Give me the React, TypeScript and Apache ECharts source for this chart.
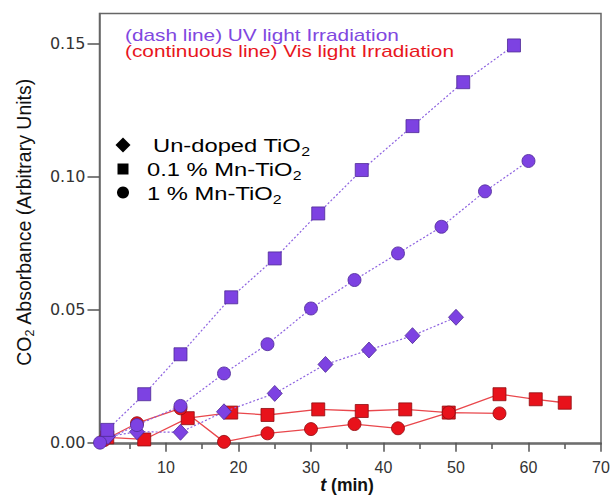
import React, { useEffect, useRef } from "react";
import * as echarts from "echarts";

// UV light irradiation (dash lines)
const uvSquareT = [1.9, 7, 12, 19, 25, 31, 37, 44, 51, 58];
const uvSquareV = [0.0048, 0.0182, 0.0332, 0.0546, 0.0692, 0.0861, 0.1024, 0.1189, 0.1354, 0.1492];
const uvCircleT = [0.9, 6, 12, 18, 24, 30, 36, 42, 48, 54, 60];
const uvCircleV = [0.0, 0.0066, 0.0138, 0.026, 0.037, 0.0504, 0.0611, 0.0711, 0.0811, 0.0944, 0.1058];
const uvDiamondT = [2, 6, 12, 18, 25, 32, 38, 44, 50];
const uvDiamondV = [0.0023, 0.0041, 0.0039, 0.0116, 0.0185, 0.0294, 0.0348, 0.0402, 0.0471];

// Vis light irradiation (continuous lines)
const visSquareT = [1.9, 7, 13, 19, 24, 31, 37, 43, 49, 56, 61, 65];
const visSquareV = [0.002, 0.0012, 0.0092, 0.0113, 0.0104, 0.0125, 0.0119, 0.0125, 0.0113, 0.0182, 0.0163, 0.015];
const visCircleT = [1.5, 6, 12, 18, 24, 30, 36, 42, 49, 56];
const visCircleV = [0.001, 0.0073, 0.0129, 0.0003, 0.0035, 0.0051, 0.007, 0.0054, 0.0113, 0.011];

const xMajorTicks = [10, 20, 30, 40, 50, 60, 70];
const xMinorTicks = [5, 15, 25, 35, 45, 55, 65];
const yTicks = [0, 0.05, 0.1, 0.15];

const zip = (t: number[], v: number[]) => t.map((x, i) => [x, v[i]]);

const FONT = '"Liberation Sans", Arial, sans-serif';
const PURPLE = "#7d42e2";
const PURPLE_BORDER = "#4e2a96";
const PURPLE_LINE = "#8d62e0";
const RED = "#e8121b";
const RED_BORDER = "#8e0c10";
const RED_LINE = "#e9474c";

export default function App() {
  const ref = useRef<HTMLDivElement>(null);
  useEffect(() => {
    document.body.style.margin = "0";
    const chart = echarts.init(ref.current!, null, { renderer: "svg" });
    const uvStyle = (symbol: string, size: any) => ({
      type: "line",
      symbol,
      symbolSize: size,
      z: 3,
      lineStyle: { color: PURPLE_LINE, width: 1.2, type: [2, 2] },
      itemStyle: { color: PURPLE, borderColor: PURPLE_BORDER, borderWidth: 0.8 },
    });
    const visStyle = (symbol: string, size: any) => ({
      type: "line",
      symbol,
      symbolSize: size,
      z: 2,
      lineStyle: { color: RED_LINE, width: 1.3 },
      itemStyle: { color: RED, borderColor: RED_BORDER, borderWidth: 0.8 },
    });
    const legSub = { fontSize: 12, fontFamily: FONT, lineHeight: 13, verticalAlign: "bottom", fill: "#000" };
    const legMain = { fontSize: 18, fontFamily: FONT, lineHeight: 23, fill: "#000" };
    const option: any = {
      animation: false,
      grid: {
        left: 99.5,
        right: 12,
        top: 13.5,
        bottom: 53,
        show: true,
        borderColor: "#666",
        borderWidth: 1.5,
        backgroundColor: "transparent",
      },
      xAxis: [
        {
          type: "value",
          min: 0.83,
          max: 70,
          position: "bottom",
          axisLine: { show: true, lineStyle: { color: "#666", width: 1.5 } },
          axisTick: { show: true, customValues: xMajorTicks, length: 9, lineStyle: { color: "#555", width: 1.5 } },
          axisLabel: { customValues: xMajorTicks, margin: 15, color: "#333", fontSize: 16, fontFamily: FONT },
          splitLine: { show: false },
        },
        {
          type: "value",
          min: 0.83,
          max: 70,
          position: "bottom",
          offset: 0,
          axisLine: { show: false },
          axisTick: { show: true, customValues: xMinorTicks, length: 5, lineStyle: { color: "#555", width: 1.5 } },
          axisLabel: { show: false },
          splitLine: { show: false },
        },
      ],
      yAxis: {
        type: "value",
        min: -0.0005,
        max: 0.1612,
        axisLine: { show: true, lineStyle: { color: "#666", width: 1.5 } },
        axisTick: { show: true, customValues: yTicks, length: 12, lineStyle: { color: "#555", width: 1.5 } },
        axisLabel: {
          customValues: yTicks,
          margin: 14,
          color: "#333",
          fontSize: 16,
          fontFamily: '"DejaVu Sans", sans-serif',
          formatter: (v: number) => v.toFixed(2),
        },
        splitLine: { show: false },
      },
      series: [
        { ...visStyle("rect", 13), data: zip(visSquareT, visSquareV) },
        { ...visStyle("circle", 13), data: zip(visCircleT, visCircleV) },
        { ...uvStyle("diamond", [15, 16]), data: zip(uvDiamondT, uvDiamondV) },
        { ...uvStyle("circle", 13), data: zip(uvCircleT, uvCircleV) },
        { ...uvStyle("rect", 13), data: zip(uvSquareT, uvSquareV) },
      ],
      graphic: [
        {
          type: "text",
          x: 125,
          y: 35,
          scaleX: 1.3,
          style: { text: "(dash line) UV light Irradiation", fill: "#8047e0", fontSize: 16, fontFamily: FONT, verticalAlign: "middle" },
        },
        {
          type: "text",
          x: 125,
          y: 51,
          scaleX: 1.3,
          style: { text: "(continuous line) Vis light Irradiation", fill: "#e8161d", fontSize: 16, fontFamily: FONT, verticalAlign: "middle" },
        },
        { type: "polygon", shape: { points: [[123, 137.5], [130.5, 145], [123, 152.5], [115.5, 145]] }, style: { fill: "#000" } },
        { type: "rect", shape: { x: 117.5, y: 163.5, width: 11, height: 11 }, style: { fill: "#000" } },
        { type: "circle", shape: { cx: 123, cy: 192.5, r: 6 }, style: { fill: "#000" } },
        {
          type: "text",
          x: 153,
          y: 146,
          scaleX: 1.32,
          style: { text: "{a|Un-doped TiO}{s|2}", verticalAlign: "middle", rich: { a: legMain, s: legSub } },
        },
        {
          type: "text",
          x: 147,
          y: 170,
          scaleX: 1.32,
          style: { text: "{a|0.1 % Mn-TiO}{s|2}", verticalAlign: "middle", rich: { a: legMain, s: legSub } },
        },
        {
          type: "text",
          x: 147,
          y: 194,
          scaleX: 1.32,
          style: { text: "{a|1 % Mn-TiO}{s|2}", verticalAlign: "middle", rich: { a: legMain, s: legSub } },
        },
        {
          type: "text",
          x: 24,
          y: 222,
          rotation: Math.PI / 2,
          style: {
            text: "{a|CO}{s|2}{a| Absorbance (Arbitrary Units)}",
            align: "center",
            verticalAlign: "middle",
            rich: {
              a: { fontSize: 19.5, fontFamily: FONT, lineHeight: 24, fill: "#111" },
              s: { fontSize: 12.5, fontFamily: FONT, lineHeight: 13, verticalAlign: "bottom", fill: "#111" },
            },
          },
        },
        {
          type: "text",
          x: 347,
          y: 485,
          style: {
            text: "{i|t}{b| (min)}",
            align: "center",
            verticalAlign: "middle",
            rich: {
              i: { fontSize: 18, fontFamily: FONT, fontStyle: "italic", fontWeight: "bold", fill: "#111" },
              b: { fontSize: 17.5, fontFamily: FONT, fontWeight: "bold", fill: "#111" },
            },
          },
        },
      ],
    };
    chart.setOption(option);
    return () => chart.dispose();
  }, []);
  return <div ref={ref} style={{ position: "absolute", left: 0, top: 0, width: 613, height: 497 }} />;
}
